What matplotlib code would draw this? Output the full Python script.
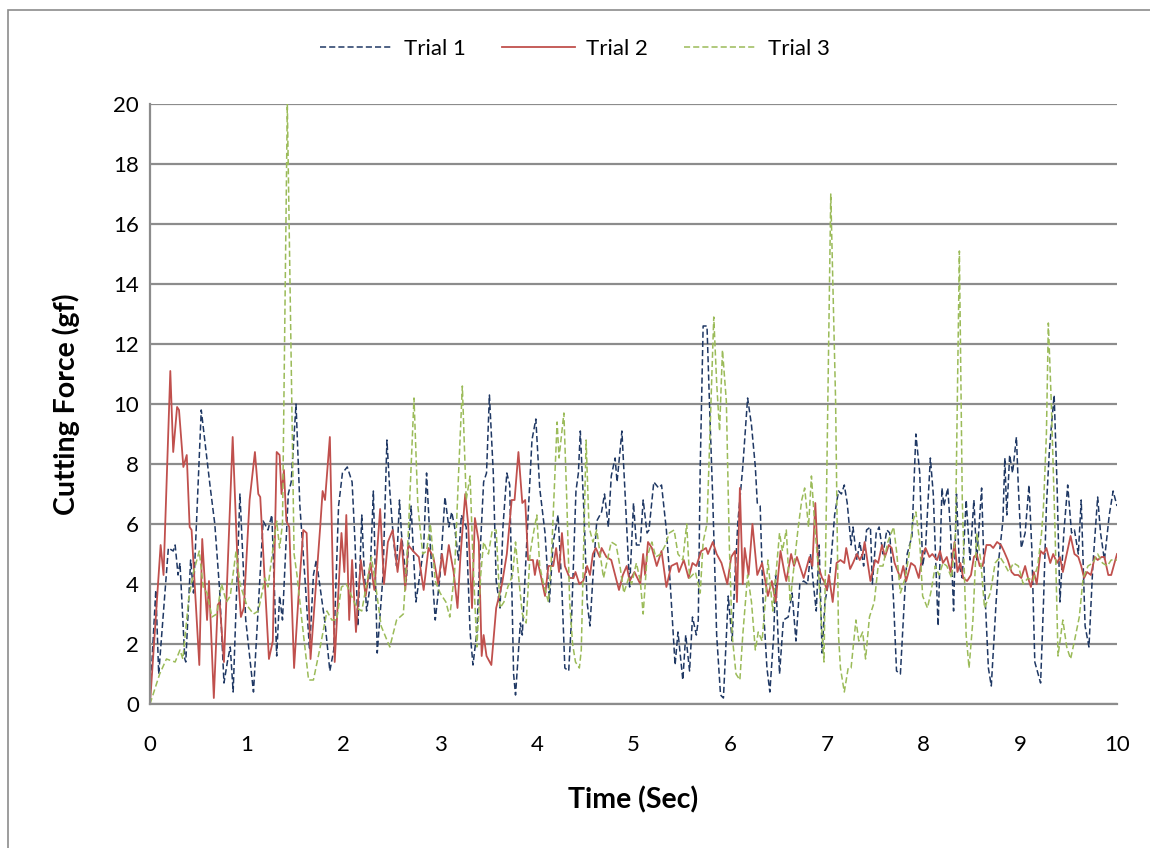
import matplotlib
matplotlib.use('Agg')
import matplotlib.pyplot as plt
from matplotlib.patches import Rectangle

plt.rcParams['font.family'] = ['Lato', 'DejaVu Sans']

# Trial 1 (blue, dashed)
t1 = [0.0, 0.06, 0.09, 0.19, 0.24, 0.26, 0.29, 0.31, 0.36, 0.37, 0.42, 0.45, 0.53, 0.62, 0.67, 0.72,
      0.765, 0.80, 0.83, 0.86, 0.93, 0.99, 1.07, 1.17, 1.22, 1.26, 1.31, 1.34, 1.37, 1.43, 1.46, 1.51,
      1.55, 1.60, 1.65, 1.69, 1.72, 1.81, 1.86, 1.90, 1.95, 1.99, 2.04, 2.09, 2.12, 2.15, 2.19, 2.21,
      2.24, 2.27, 2.31, 2.35, 2.41, 2.45, 2.48, 2.52, 2.55, 2.58, 2.60, 2.65, 2.70, 2.75, 2.79, 2.83,
      2.86, 2.90, 2.95, 3.00, 3.05, 3.09, 3.12, 3.15, 3.19, 3.22, 3.27, 3.31, 3.34, 3.38, 3.41, 3.45,
      3.48, 3.51, 3.55, 3.58, 3.62, 3.65, 3.69, 3.72, 3.76, 3.78, 3.83, 3.85, 3.89, 3.95, 3.99, 4.03,
      4.085, 4.13, 4.17, 4.22, 4.26, 4.29, 4.33, 4.36, 4.405, 4.43, 4.45, 4.49, 4.52, 4.55, 4.58, 4.62,
      4.67, 4.70, 4.74, 4.77, 4.81, 4.83, 4.88, 4.91, 4.96, 5.00, 5.03, 5.07, 5.10, 5.14, 5.16, 5.21,
      5.26, 5.29, 5.34, 5.38, 5.43, 5.46, 5.51, 5.54, 5.58, 5.61, 5.65, 5.67, 5.69, 5.72, 5.76, 5.79,
      5.82, 5.86, 5.90, 5.93, 5.98, 6.02, 6.05, 6.08, 6.13, 6.18, 6.22, 6.26, 6.28, 6.31, 6.34, 6.38,
      6.41, 6.45, 6.47, 6.51, 6.55, 6.60, 6.64, 6.68, 6.72, 6.76, 6.80, 6.83, 6.86, 6.89, 6.92, 6.95,
      6.98, 7.03, 7.08, 7.12, 7.15, 7.18, 7.21, 7.25, 7.27, 7.31, 7.34, 7.38, 7.41, 7.45, 7.47, 7.51,
      7.54, 7.58, 7.62, 7.65, 7.69, 7.72, 7.76, 7.80, 7.83, 7.88, 7.92, 7.96, 7.99, 8.02, 8.07, 8.10,
      8.15, 8.19, 8.21, 8.25, 8.28, 8.31, 8.34, 8.37, 8.40, 8.44, 8.48, 8.52, 8.55, 8.60, 8.63, 8.67,
      8.70, 8.75, 8.78, 8.82, 8.84, 8.86, 8.89, 8.92, 8.96, 8.98, 9.01, 9.05, 9.09, 9.12, 9.15, 9.21,
      9.24, 9.27, 9.30, 9.32, 9.35, 9.38, 9.41, 9.45, 9.49, 9.53, 9.56, 9.60, 9.63, 9.67, 9.71, 9.75,
      9.80, 9.83, 9.87, 9.92, 9.96, 10.0]
f1 = [0.2, 3.8, 1.0, 5.2, 5.1, 5.3, 4.3, 4.7, 1.5, 1.4, 4.8, 3.7, 9.8, 7.3, 6.0, 3.8,
      0.7, 1.4, 1.9, 0.4, 7.0, 2.8, 0.4, 6.1, 5.8, 6.3, 1.6, 3.6, 2.8, 7.0, 7.4, 10.0,
      6.6, 4.3, 1.8, 4.3, 4.8, 2.7, 1.1, 1.8, 6.6, 7.7, 7.9, 7.4, 5.4, 2.6, 6.3, 4.8,
      3.1, 3.8, 7.1, 1.7, 4.3, 8.8, 7.1, 5.4, 4.6, 6.8, 5.7, 4.1, 6.6, 3.4, 4.3, 5.2,
      7.7, 5.2, 2.8, 4.3, 6.9, 5.9, 6.4, 5.9, 4.8, 6.3, 5.9, 2.4, 1.3, 2.4, 4.8, 7.4,
      7.7, 10.3, 7.7, 4.1, 3.2, 5.9, 7.7, 7.3, 1.0, 0.3, 2.7, 2.3, 5.0, 8.8, 9.5, 7.2,
      5.7, 3.4, 5.4, 6.3, 3.8, 1.2, 1.1, 2.9, 7.1, 7.7, 9.1, 6.2, 3.4, 2.6, 4.2, 6.1,
      6.4, 7.0, 5.9, 7.6, 8.2, 7.4, 9.1, 7.2, 3.9, 6.7, 5.3, 5.3, 6.8, 5.7, 5.8, 7.4,
      7.2, 7.3, 5.8, 4.0, 1.3, 2.4, 0.8, 2.3, 1.1, 2.9, 2.3, 2.8, 7.9, 12.6, 12.6, 9.6,
      6.8, 2.3, 0.3, 0.2, 3.6, 2.1, 4.3, 6.1, 7.9, 10.2, 9.3, 7.9, 6.7, 6.6, 3.4, 1.2,
      0.4, 2.3, 4.3, 1.0, 2.8, 2.9, 3.7, 2.1, 4.0, 4.1, 4.0, 5.0, 4.0, 3.1, 5.3, 1.7,
      3.4, 4.3, 6.3, 7.1, 7.0, 7.3, 6.7, 5.3, 5.9, 4.8, 5.4, 4.6, 5.8, 5.9, 4.0, 5.7,
      5.9, 5.0, 5.8, 5.7, 3.4, 1.1, 1.0, 3.4, 5.0, 5.6, 9.0, 7.7, 4.6, 5.2, 8.2, 7.0,
      2.6, 7.2, 6.6, 7.2, 5.7, 3.1, 7.0, 4.6, 4.2, 6.8, 4.8, 6.8, 4.8, 7.2, 4.0, 1.2,
      0.6, 3.4, 4.9, 6.1, 8.2, 6.3, 8.3, 7.7, 8.9, 7.2, 5.2, 5.7, 7.3, 5.1, 1.4, 0.7,
      3.4, 6.6, 8.4, 9.2, 10.3, 7.3, 3.4, 5.7, 7.3, 5.7, 5.8, 5.0, 6.8, 2.6, 1.9, 4.6,
      6.9, 5.7, 4.8, 6.3, 7.1, 6.6]

# Trial 2 (red, solid)
t2 = [0.0, 0.11, 0.14, 0.21, 0.24, 0.28, 0.30, 0.345, 0.38, 0.41, 0.43, 0.51, 0.54, 0.59, 0.61, 0.66,
      0.70, 0.72, 0.765, 0.855, 0.91, 0.94, 0.97, 1.03, 1.085, 1.12, 1.14, 1.23, 1.27, 1.31, 1.34, 1.36,
      1.385, 1.41, 1.44, 1.49, 1.54, 1.585, 1.62, 1.66, 1.76, 1.785, 1.81, 1.86, 1.91, 1.98, 2.01, 2.03,
      2.06, 2.09, 2.13, 2.18, 2.23, 2.28, 2.32, 2.38, 2.42, 2.46, 2.51, 2.56, 2.60, 2.64, 2.67, 2.72,
      2.78, 2.83, 2.88, 2.93, 2.98, 3.02, 3.05, 3.09, 3.14, 3.18, 3.21, 3.26, 3.29, 3.33, 3.36, 3.40,
      3.43, 3.45, 3.48, 3.53, 3.58, 3.64, 3.69, 3.74, 3.77, 3.81, 3.85, 3.88, 3.91, 3.96, 3.98, 4.005,
      4.04, 4.085, 4.12, 4.17, 4.20, 4.23, 4.26, 4.29, 4.34, 4.38, 4.40, 4.44, 4.48, 4.52, 4.55, 4.58,
      4.61, 4.65, 4.67, 4.72, 4.77, 4.85, 4.89, 4.93, 4.96, 5.01, 5.07, 5.10, 5.12, 5.15, 5.19, 5.24,
      5.29, 5.34, 5.39, 5.45, 5.47, 5.52, 5.57, 5.61, 5.65, 5.70, 5.75, 5.77, 5.82, 5.86, 5.91, 5.97,
      6.01, 6.05, 6.07, 6.10, 6.13, 6.15, 6.19, 6.23, 6.28, 6.33, 6.39, 6.43, 6.47, 6.52, 6.56, 6.58,
      6.63, 6.66, 6.69, 6.76, 6.82, 6.85, 6.88, 6.91, 6.95, 6.97, 7.00, 7.02, 7.06, 7.10, 7.14, 7.18,
      7.20, 7.24, 7.27, 7.31, 7.34, 7.37, 7.39, 7.45, 7.50, 7.53, 7.57, 7.60, 7.64, 7.67, 7.70, 7.76,
      7.79, 7.82, 7.87, 7.91, 7.95, 7.99, 8.02, 8.06, 8.09, 8.14, 8.17, 8.20, 8.24, 8.28, 8.32, 8.35,
      8.38, 8.41, 8.45, 8.49, 8.52, 8.55, 8.58, 8.61, 8.65, 8.69, 8.72, 8.76, 8.80, 8.83, 8.87, 8.91,
      8.94, 8.98, 9.01, 9.05, 9.08, 9.11, 9.14, 9.17, 9.21, 9.24, 9.27, 9.31, 9.34, 9.38, 9.41, 9.44,
      9.48, 9.52, 9.56, 9.60, 9.63, 9.66, 9.69, 9.73, 9.77, 9.80, 9.84, 9.87, 9.91, 9.94, 10.0]
f2 = [0.0, 5.3, 4.3, 11.1, 8.4, 9.9, 9.8, 7.9, 8.3, 5.9, 5.8, 1.3, 5.5, 2.8, 4.1, 0.2,
      3.3, 3.4, 1.4, 8.9, 4.3, 2.9, 3.2, 6.8, 8.4, 7.0, 6.9, 1.5, 2.1, 8.4, 8.3, 7.0,
      7.8, 6.1, 5.9, 1.2, 3.8, 5.8, 5.7, 1.5, 5.9, 7.1, 6.8, 8.9, 1.4, 5.7, 4.4, 6.3,
      2.8, 4.8, 2.4, 4.8, 3.6, 4.7, 3.8, 6.5, 4.0, 5.4, 5.8, 4.4, 5.5, 3.8, 5.3, 5.1,
      4.9, 3.8, 5.2, 4.9, 4.0, 5.0, 4.3, 5.3, 4.4, 3.2, 4.9, 7.0, 6.0, 3.2, 6.2, 5.4,
      1.6, 2.3, 1.6, 1.3, 3.2, 4.0, 5.0, 6.8, 6.8, 8.4, 6.7, 6.8, 4.8, 4.8, 4.3, 4.8,
      4.3, 3.6, 4.6, 4.6, 5.2, 4.4, 5.7, 4.6, 4.2, 4.2, 4.4, 4.0, 4.1, 4.6, 4.3, 5.0,
      5.2, 4.9, 5.2, 4.9, 4.8, 3.8, 4.3, 4.6, 4.1, 4.4, 4.0, 5.0, 4.3, 5.4, 5.2, 4.6,
      5.1, 3.9, 4.6, 4.7, 4.4, 4.8, 4.2, 4.7, 4.6, 5.1, 5.2, 5.0, 5.4, 5.0, 4.7, 4.0,
      4.9, 5.1, 3.4, 7.2, 4.0, 5.2, 4.3, 6.0, 4.3, 4.7, 3.6, 4.1, 3.4, 5.1, 4.4, 4.1,
      5.0, 4.6, 4.9, 4.2, 4.9, 4.6, 6.7, 4.6, 4.2, 4.1, 3.8, 4.3, 3.4, 4.7, 4.8, 4.7,
      5.2, 4.5, 4.7, 5.0, 4.8, 5.0, 5.4, 4.1, 4.8, 4.7, 5.3, 4.9, 5.3, 5.2, 4.7, 4.2,
      4.6, 4.1, 4.7, 4.6, 4.2, 5.0, 5.2, 4.9, 5.0, 4.8, 5.1, 4.7, 4.9, 4.4, 5.4, 4.4,
      4.7, 4.2, 4.1, 4.3, 4.9, 5.0, 4.6, 4.6, 5.3, 5.3, 5.2, 5.4, 5.3, 5.1, 4.8, 4.4,
      4.3, 4.3, 4.2, 4.6, 4.2, 3.9, 4.4, 4.0, 5.1, 5.0, 5.2, 4.7, 5.0, 4.7, 4.9, 4.4,
      5.0, 5.6, 5.0, 4.9, 4.6, 4.2, 4.4, 4.3, 4.9, 4.8, 4.9, 4.9, 4.3, 4.3, 5.0]

# Trial 3 (green, dashed)
t3 = [0.0, 0.10, 0.17, 0.26, 0.31, 0.34, 0.40, 0.45, 0.51, 0.55, 0.59, 0.64, 0.69, 0.74, 0.79, 0.83,
      0.89, 0.93, 1.00, 1.07, 1.12, 1.19, 1.22, 1.28, 1.31, 1.34, 1.37, 1.42, 1.49, 1.52, 1.57, 1.64,
      1.69, 1.76, 1.83, 1.88, 1.93, 1.98, 2.03, 2.07, 2.14, 2.19, 2.24, 2.29, 2.34, 2.39, 2.48, 2.55,
      2.62, 2.67, 2.73, 2.77, 2.82, 2.86, 2.90, 2.95, 3.00, 3.06, 3.10, 3.15, 3.19, 3.23, 3.27, 3.31,
      3.34, 3.38, 3.42, 3.45, 3.50, 3.54, 3.58, 3.62, 3.66, 3.70, 3.75, 3.78, 3.81, 3.85, 3.89, 3.93,
      3.96, 4.00, 4.03, 4.07, 4.12, 4.15, 4.21, 4.23, 4.28, 4.31, 4.34, 4.37, 4.40, 4.44, 4.46, 4.51,
      4.54, 4.58, 4.62, 4.65, 4.69, 4.73, 4.77, 4.82, 4.86, 4.90, 4.95, 4.98, 5.03, 5.07, 5.10, 5.14,
      5.19, 5.23, 5.28, 5.33, 5.37, 5.42, 5.46, 5.51, 5.55, 5.58, 5.64, 5.69, 5.72, 5.76, 5.79, 5.83,
      5.86, 5.89, 5.92, 5.96, 5.99, 6.02, 6.06, 6.10, 6.13, 6.18, 6.22, 6.26, 6.29, 6.33, 6.37, 6.39,
      6.44, 6.48, 6.51, 6.54, 6.58, 6.62, 6.66, 6.70, 6.74, 6.77, 6.81, 6.84, 6.88, 6.91, 6.95, 6.97,
      7.00, 7.04, 7.09, 7.12, 7.14, 7.18, 7.22, 7.25, 7.30, 7.33, 7.37, 7.40, 7.44, 7.49, 7.53, 7.58,
      7.63, 7.69, 7.72, 7.76, 7.81, 7.85, 7.89, 7.92, 7.96, 7.99, 8.04, 8.08, 8.12, 8.16, 8.20, 8.24,
      8.29, 8.33, 8.37, 8.40, 8.44, 8.47, 8.51, 8.55, 8.59, 8.63, 8.69, 8.74, 8.79, 8.83, 8.88, 8.93,
      8.98, 9.03, 9.08, 9.13, 9.18, 9.22, 9.24, 9.27, 9.29, 9.32, 9.36, 9.39, 9.44, 9.48, 9.52, 9.56,
      9.61, 9.65, 9.70, 9.75, 9.80, 9.85, 9.90, 9.94, 10.0]
f3 = [0.0, 1.0, 1.5, 1.4, 1.8, 1.5, 3.5, 4.4, 5.1, 3.9, 3.7, 2.9, 3.0, 4.0, 3.4, 3.6,
      5.1, 4.0, 3.3, 3.0, 3.1, 4.2, 3.9, 5.4, 6.1, 5.2, 6.0, 20.0, 5.0, 4.3, 2.8, 0.8,
      0.8, 1.9, 3.1, 2.8, 2.8, 3.9, 4.0, 3.7, 3.2, 3.1, 4.0, 4.9, 3.8, 2.6, 1.9, 2.8,
      3.0, 5.6, 10.2, 6.6, 5.0, 5.1, 6.0, 4.1, 3.7, 3.4, 2.9, 4.4, 7.6, 10.6, 6.8, 7.6,
      4.8, 1.9, 4.3, 5.4, 5.0, 5.8, 5.8, 3.2, 3.4, 3.9, 4.3, 5.4, 4.3, 3.0, 2.7, 5.0,
      5.6, 6.3, 4.6, 4.0, 3.4, 4.8, 9.4, 8.2, 9.7, 6.8, 3.4, 2.0, 1.4, 1.2, 1.8, 8.8,
      5.9, 5.4, 5.8, 5.1, 4.2, 4.8, 5.4, 5.3, 4.6, 3.7, 4.2, 4.0, 4.7, 4.1, 3.0, 4.9,
      5.4, 4.9, 5.0, 5.3, 5.7, 5.8, 5.0, 4.8, 6.0, 4.2, 4.4, 3.7, 5.4, 6.0, 9.0, 12.9,
      10.7, 9.1, 11.8, 10.1, 5.4, 2.3, 1.0, 0.8, 2.3, 4.3, 3.4, 1.8, 2.4, 2.1, 3.7, 4.8,
      3.1, 4.6, 5.7, 5.1, 5.8, 3.4, 4.6, 5.8, 6.8, 7.2, 5.9, 7.6, 5.7, 4.6, 2.3, 1.4,
      7.9, 17.0, 10.1, 2.3, 1.2, 0.4, 1.2, 1.2, 2.8, 2.1, 2.4, 1.5, 2.9, 3.4, 4.6, 4.6,
      5.4, 5.9, 5.1, 3.7, 4.2, 5.0, 6.1, 6.4, 5.4, 3.6, 3.2, 3.8, 4.6, 4.3, 4.7, 4.6,
      4.2, 5.7, 15.1, 6.8, 2.3, 1.2, 2.8, 5.7, 4.8, 3.2, 3.7, 4.7, 4.9, 4.7, 4.4, 4.7,
      4.6, 4.0, 4.2, 4.1, 4.6, 5.7, 6.6, 9.0, 12.7, 10.1, 5.7, 1.6, 2.8, 1.9, 1.5, 2.1,
      2.9, 4.2, 4.6, 4.7, 5.0, 4.7, 4.6, 4.8, 4.8]

x_ticks = list(range(0, 11))
y_ticks = list(range(0, 21, 2))

fig = plt.figure(figsize=(11.5, 8.48), dpi=100)
ax = fig.add_axes([150 / 1150, 1 - 704 / 848, 967 / 1150, 600 / 848])

grid_col = '#8c8c8c'
ax.plot(t1, f1, color='#1f3864', lw=1.1, ls=(0, (4, 2)), label='Trial 1')
ax.plot(t2, f2, color='#c0504d', lw=1.3, ls='-', label='Trial 2')
ax.plot(t3, f3, color='#9bbb59', lw=1.1, ls=(0, (4, 2)), label='Trial 3')

ax.set_xlim(0, 10)
ax.set_ylim(0, 20)
ax.set_xticks(x_ticks)
ax.set_yticks(y_ticks)
ax.tick_params(length=0, labelsize=16)
ax.tick_params(axis='x', pad=22)
ax.tick_params(axis='y', pad=8)
ax.yaxis.grid(True, color=grid_col, lw=1.6)
ax.set_axisbelow(True)
for s in ['top', 'right']:
    ax.spines[s].set_visible(False)
for s in ['left', 'bottom']:
    ax.spines[s].set_color(grid_col)
    ax.spines[s].set_linewidth(1.6)

ax.set_xlabel('Time (Sec)', fontsize=20.5, fontweight='bold', labelpad=23)
ax.set_ylabel('Cutting Force (gf)', fontsize=20.5, fontweight='bold', labelpad=24)

ax.legend(loc='center', bbox_to_anchor=(0.5, 1 - 49 / 848), bbox_transform=fig.transFigure,
          ncol=3, frameon=False, fontsize=16, handlelength=3.3, handletextpad=0.5,
          columnspacing=1.6)

# outer chart frame
fig.patches.append(Rectangle((8 / 1150, -0.1), 1.2, 1 - 10 / 848 + 0.1, transform=fig.transFigure,
                             fill=False, edgecolor='#8c8c8c', lw=1.2))

fig.savefig('out.png', dpi=100)
